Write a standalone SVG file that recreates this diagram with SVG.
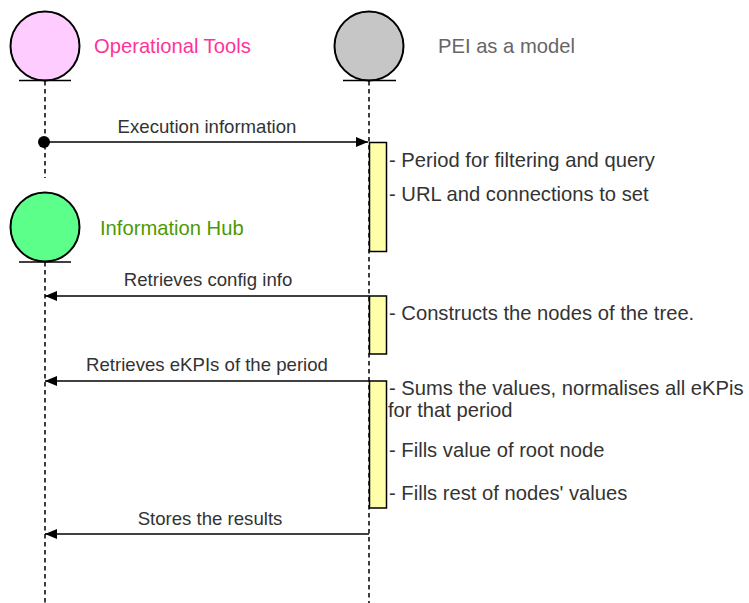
<svg xmlns="http://www.w3.org/2000/svg" width="749" height="603" viewBox="0 0 749 603">
  <style>
    .actor { stroke: #000; stroke-width: 2; }
    .base { stroke: #000; stroke-width: 1.5; }
    .life { stroke: #000; stroke-width: 1.5; stroke-dasharray: 4.5 3.5; fill: none; }
    .act { fill: #FFFFAA; stroke: #000; stroke-width: 1.5; }
    .msg { stroke: #000; stroke-width: 1.5; fill: none; }
    .lbl { font-family: "Liberation Sans", Arial, sans-serif; font-size: 18.6px; fill: #333333; text-anchor: middle; }
    .note { font-family: "Liberation Sans", Arial, sans-serif; font-size: 20.2px; fill: #333333; }
    .title { font-family: "Liberation Sans", Arial, sans-serif; font-size: 20.2px; }
  </style>
  <defs>
    <marker id="arrow" viewBox="0 0 12 10" refX="12" refY="5" markerWidth="12" markerHeight="10" markerUnits="userSpaceOnUse" orient="auto">
      <path d="M0,0 L12,5 L0,10 Z" fill="#000"/>
    </marker>
  </defs>

  <!-- lifelines -->
  <g id="lifelines">
    <line class="life" x1="45" y1="81" x2="45" y2="178"/>
    <line class="life" x1="45" y1="262" x2="45" y2="603"/>
    <line class="life" x1="369" y1="81" x2="369" y2="603"/>
  </g>

  <!-- actors -->
  <g id="operational-tools">
    <circle class="actor" cx="45" cy="46" r="34.5" fill="#FFCCFF"/>
    <line class="base" x1="19" y1="80.5" x2="71" y2="80.5"/>
    <text class="title" x="94" y="53" fill="#FF3399">Operational Tools</text>
  </g>
  <g id="pei-model">
    <circle class="actor" cx="369" cy="46" r="34.5" fill="#C6C6C6"/>
    <line class="base" x1="343" y1="80.5" x2="396" y2="80.5"/>
    <text class="title" x="438" y="53" fill="#666666">PEI as a model</text>
  </g>
  <g id="information-hub">
    <circle class="actor" cx="45" cy="227" r="34.5" fill="#5CFF8A"/>
    <line class="base" x1="19" y1="262" x2="71" y2="262"/>
    <text class="title" x="100" y="235" fill="#4D9900">Information Hub</text>
  </g>

  <!-- activation bars -->
  <g id="activation-1">
    <rect class="act" x="369.5" y="142.5" width="17" height="109"/>
    <text class="note" x="389" y="167">- Period for filtering and query</text>
    <text class="note" x="389" y="201">- URL and connections to set</text>
  </g>
  <g id="activation-2">
    <rect class="act" x="369.5" y="296" width="17" height="58"/>
    <text class="note" x="389" y="320">- Constructs the nodes of the tree.</text>
  </g>
  <g id="activation-3">
    <rect class="act" x="369.5" y="381" width="17" height="127"/>
    <text class="note" x="389" y="395">- Sums the values, normalises all eKPis</text>
    <text class="note" x="388" y="417">for that period</text>
    <text class="note" x="389" y="457">- Fills value of root node</text>
    <text class="note" x="389" y="500">- Fills rest of nodes' values</text>
  </g>

  <!-- messages -->
  <g id="connectors">
    <circle cx="44" cy="142" r="6" fill="#000"/>
    <line class="msg" x1="44" y1="142" x2="368" y2="142" marker-end="url(#arrow)"/>
    <text class="lbl" x="207" y="133">Execution information</text>

    <line class="msg" x1="369" y1="296" x2="45" y2="296" marker-end="url(#arrow)"/>
    <text class="lbl" x="208" y="286">Retrieves config info</text>

    <line class="msg" x1="369" y1="381" x2="45" y2="381" marker-end="url(#arrow)"/>
    <text class="lbl" x="207" y="371">Retrieves eKPIs of the period</text>

    <line class="msg" x1="369" y1="534" x2="45" y2="534" marker-end="url(#arrow)"/>
    <text class="lbl" x="210" y="525">Stores the results</text>
  </g>
</svg>
